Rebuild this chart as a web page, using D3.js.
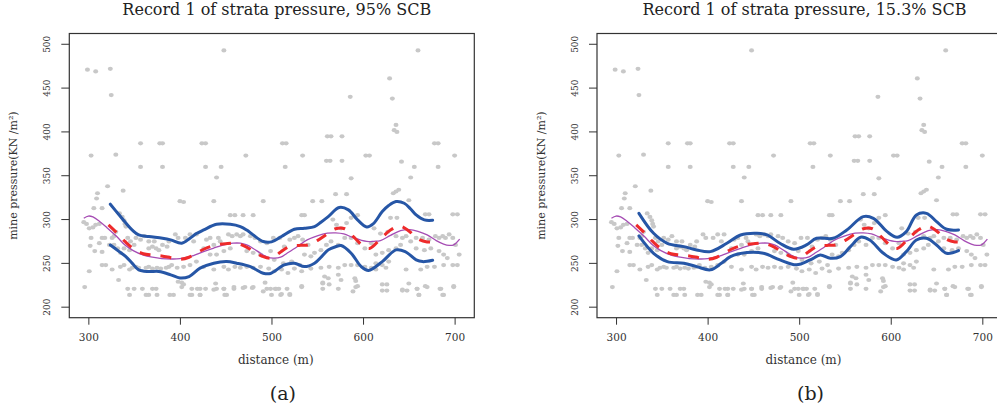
<!DOCTYPE html>
<html lang="en">
<head>
  <meta charset="UTF-8" />
  <title>Record 1 of strata pressure</title>
  <script src="https://d3js.org/d3.v7.min.js"></script>
  <style>
    body { margin: 0; background: #fff; }
    svg { display: block; font-family: 'DejaVu Serif', serif; }
    .tick text { fill: #333; }
    .tick line { stroke: #333; }
  </style>
</head>
<body>
<script>
  // scatter of measured pressure (same in both panels)
  const distance = [
    299,308,324,325,448,357,378,381,424,428,303,330,472,357,381,428,445,440,321,310,338,309,
    660,629,586,632,636,634,637,512,516,561,565,577,678,682,534,700,515,560,564,577,603,607,642,656,682,
    587,652,570,582,633,636,639,
    306,315,295,298,301,305,308,312,303,315,318,312,302,307,315,323,326,328,330,
    334,337,339,340,341,328,332,335,343,346,350,339,345,
    352,357,361,366,370,374,377,366,372,381,386,388,
    315,319,326,301,296,333,335,339,345,348,352,355,363,366,370,375,379,385,388,
    343,350,359,370,374,345,363,366,375,
    389,402,402,413,419,422,428,413,422,439,440,448,451,459,471,480,493,495,500,510,520,504,508,517,
    533,556,556,562,592,592,621,626,621,626,643,648,650,661,659,670,684,688,699,
    400,404,437,491,455,460,469,480,395,398,406,411,415,418,426,429,433,437,442,444,
    453,457,462,466,469,477,482,488,495,433,440,448,455,473,480,488,499,
    391,397,404,411,418,426,437,448,453,460,466,473,480,488,497,398,404,
    393,411,422,437,448,449,459,469,479,491,499,
    545,555,533,536,567,571,576,582,587,594,502,509,514,520,525,529,534,540,
    547,554,560,565,573,580,587,594,602,609,503,513,522,531,536,543,
    503,511,518,525,533,543,554,563,573,580,587,594,602,609,
    558,563,573,576,591,594,505,511,520,533,556,573,589,
    630,637,668,672,698,703,650,612,619,627,636,643,647,652,
    658,665,672,679,683,687,690,694,698,701,705,
    614,621,628,636,641,658,667,674,683,688,692,
    614,621,628,647,663,670,678,688,698,703,614,625,
    643,659,668,685,687,699,661
  ];
  const pressure = [
    471,469,472,442,493,387,387,387,387,387,373,374,373,360,360,360,360,348,338,330,333,324,
    493,461,440,438,408,402,400,387,387,395,395,395,387,387,373,373,360,367,367,367,373,373,366,360,360,
    347,348,329,329,330,332,334,
    313,313,297,295,290,291,294,295,279,279,279,273,270,264,263,271,279,281,286,
    307,303,299,295,292,271,267,262,279,275,271,267,265,
    279,277,281,267,269,267,265,275,275,271,269,275,
    248,248,243,241,223,231,246,248,243,245,246,245,245,246,244,245,244,245,246,
    221,221,221,221,221,214,214,214,214,
    214,228,223,221,221,221,221,214,214,227,221,221,214,223,223,223,228,221,214,214,214,221,221,221,
    223,228,221,233,223,230,226,226,219,219,219,219,227,214,221,223,221,214,223,
    321,320,321,321,305,305,305,305,283,279,279,283,275,283,267,277,279,271,279,275,
    283,281,283,281,283,281,279,275,273,260,260,264,267,264,262,260,264,
    248,245,246,248,252,246,243,246,243,246,245,246,245,246,244,229,226,
    214,214,214,220,221,214,221,222,222,218,221,
    321,321,305,305,300,294,290,296,302,305,279,279,269,277,279,281,277,271,
    262,265,271,275,271,279,279,273,267,273,254,250,252,248,260,258,
    241,243,239,244,241,244,245,246,245,248,248,248,246,245,
    235,226,237,231,233,224,221,215,215,224,227,221,218,
    302,302,306,306,306,306,322,290,284,286,281,279,281,275,
    279,279,277,281,279,281,279,283,279,271,260,
    260,262,265,267,271,267,265,267,264,260,256,
    250,248,252,243,243,246,246,248,248,248,243,245,
    220,221,224,221,214,224,214
  ];

  // smooth mean (red dashed) and reference trend (purple), same in both panels
  const fitDistance = [322,330,340,350,360,370,380,390,400,410,420,430,440,450,460,470,480,490,500,510,520,530,540,550,560,570,580,590,600,607,620,630,640,650,660,670,676];
  const meanFit     = [294,286,275,266,261,259.5,258.5,256.5,254.5,257,263,268,271,272.5,273,270,264,258,256,263,269.5,270.5,271,276,283,289.5,289.5,280,270,267,279,288,292.5,287,278,274.5,274.5];
  const trendDistance = [295,300,305,312,320,331,340,349,360,370,380,393,400,411,425,437,448,458,466,473,480,488,495,502,510,517,528,539,550,561,570,579,590,604,612,619,630,641,651,660,670,680,688,694,699,705.5];
  const trend         = [301.5,304,303,298,291,280.6,271,264.6,259.5,257,255.5,255,255.5,257.7,263,267.5,271,273,273,271,267,261.6,257.5,256,257,261.6,269,276.8,281.5,284.4,284.8,283.6,279,275,275.2,276,282,287.4,288.5,286.5,282.5,276,272,270.5,271.1,277.6];

  // confidence bands (blue), panel (a) 95% SCB
  const bandDistanceA = [324,333,341,348,355,366,381,390,402,411,418,426,440,455,466,473,480,491,500,511,525,536,547,554,562,574,584,594,604,611,621,628,636,645,652,658,667,676];
  const upperA = [317.5,306,296,288,282.5,280.6,278.7,276.8,273,278.7,284,288.2,294.6,294.6,292,288,282.5,274.9,274.5,280.6,288.9,290.1,292,297,303.4,313.7,311,299.6,291.5,295,309.1,316,320.5,318.6,312,305.3,299.6,299.2];
  const lowerDistanceA = [324,333,341,348,355,366,377,390,400,410,422,437,451,462,477,491,499,514,525,536,547,555,562,570,576,587,598,606,621,636,646,658,665,676];
  const lowerA = [271,264,257.8,250,242.6,240.7,240.7,236.9,233.3,235,244.5,250.2,252,250.2,246.3,238.8,238.5,248.3,250.2,246.3,250.2,258,265.4,269,270.3,261.6,246.3,242,252,265.4,263.5,254,252,253.6];

  // confidence bands (blue), panel (b) 15.3% SCB
  const bandDistanceB = [325,341,356,374,388,403,421,436,454,465,479,494,508,519,537,552,570,581,596,607,617,628,639,650,661,674];
  const upperB = [307.1,284.3,272.9,269.1,265.3,263.4,272.9,282.4,284.3,282.4,272.9,266.1,271,278.6,278.6,288.1,303.3,301.4,286.2,279.8,286.2,305.2,307.1,297.6,288.9,288.1];
  const lowerDistanceB = [325,341,356,374,388,403,415,425,443,461,479,497,512,523,534,545,556,567,577,592,606,617,628,639,650,661,674];
  const lowerB = [281.3,261.5,252,250.1,246.3,242.6,250,257.7,262.3,261.5,253.9,248.3,253.9,259.6,255.8,257.7,269.1,279.8,276.7,261.5,253.9,263.4,276.7,278.6,271,261.5,264.6];

  const xTicks = [300, 400, 500, 600, 700];
  const yTicks = [200, 250, 300, 350, 400, 450, 500];
  const titles = ["Record 1 of strata pressure, 95% SCB", "Record 1 of strata pressure, 15.3% SCB"];
  const tags = ["(a)", "(b)"];
  const xLabel = "distance (m)";
  const yLabel = "mine pressure(KN /m\u00B2)";

  const width = 997, height = 414;
  const boxTop = 33.5, boxBottom = 317.7, boxWidth = 405;

  const svg = d3.select("body").append("svg")
    .attr("width", width)
    .attr("height", height);

  const panels = [
    { left: 69.3, bands: [[bandDistanceA, upperA], [lowerDistanceA, lowerA]] },
    { left: 597,  bands: [[bandDistanceB, upperB], [lowerDistanceB, lowerB]] }
  ];

  const points = distance.map((d, i) => ({ x: d, y: pressure[i] }));
  const zip = (xs, ys) => xs.map((d, i) => [d, ys[i]]);

  panels.forEach((p, k) => {
    const x = d3.scaleLinear().domain([279.2, 721.5]).range([p.left, p.left + boxWidth]);
    const y = d3.scaleLinear().domain([188, 512.3]).range([boxBottom, boxTop]);
    const mid = p.left + boxWidth / 2;

    const g = svg.append("g");

    g.append("clipPath").attr("id", "clip" + k)
      .append("rect")
      .attr("x", p.left).attr("y", boxTop)
      .attr("width", boxWidth).attr("height", boxBottom - boxTop);

    const plot = g.append("g").attr("clip-path", `url(#clip${k})`);

    plot.selectAll("ellipse")
      .data(points)
      .join("ellipse")
      .attr("cx", d => x(d.x))
      .attr("cy", d => y(d.y))
      .attr("rx", 2.5).attr("ry", 2.1)
      .attr("fill", "#c8c8c8");

    const line = d3.line()
      .x(d => x(d[0]))
      .y(d => y(d[1]))
      .curve(d3.curveCatmullRom.alpha(0.5));

    plot.append("path")
      .attr("d", line(zip(trendDistance, trend)))
      .attr("fill", "none")
      .attr("stroke", "#a64db4")
      .attr("stroke-width", 1.3);

    plot.append("path")
      .attr("d", line(zip(fitDistance, meanFit)))
      .attr("fill", "none")
      .attr("stroke", "#ee2b2b")
      .attr("stroke-width", 3)
      .attr("stroke-dasharray", "11,10");

    p.bands.forEach(b => {
      plot.append("path")
        .attr("d", line(zip(b[0], b[1])))
        .attr("fill", "none")
        .attr("stroke", "#2656a6")
        .attr("stroke-width", 3)
        .attr("stroke-linecap", "round");
    });

    // box
    g.append("rect")
      .attr("x", p.left).attr("y", boxTop)
      .attr("width", boxWidth).attr("height", boxBottom - boxTop)
      .attr("fill", "none")
      .attr("stroke", "#333")
      .attr("stroke-width", 1.2);

    // x axis
    const xa = g.append("g")
      .attr("transform", `translate(0,${boxBottom})`)
      .call(d3.axisBottom(x).tickValues(xTicks).tickSize(7).tickPadding(9));
    xa.select(".domain").remove();
    xa.selectAll("text").attr("font-size", 10.5).attr("font-family", "DejaVu Serif");

    // y axis, labels parallel to the axis
    const ya = g.append("g")
      .attr("transform", `translate(${p.left},0)`)
      .call(d3.axisLeft(y).tickValues(yTicks).tickSize(8));
    ya.select(".domain").remove();
    ya.selectAll("text")
      .attr("x", null).attr("dy", "0.36em")
      .attr("text-anchor", "middle")
      .attr("transform", d => `translate(-22.6,${y(d)}) rotate(-90)`)
      .attr("y", 0)
      .attr("font-size", 9).attr("font-family", "DejaVu Serif");
    ya.selectAll(".tick").attr("transform", null);
    ya.selectAll(".tick line").attr("y1", d => y(d)).attr("y2", d => y(d));

    g.append("text")
      .attr("x", mid + 5).attr("y", 15)
      .attr("text-anchor", "middle")
      .attr("font-size", 16)
      .attr("fill", "#222")
      .text(titles[k]);

    g.append("text")
      .attr("x", mid + 4).attr("y", 364)
      .attr("text-anchor", "middle")
      .attr("font-size", 12)
      .attr("fill", "#333")
      .text(xLabel);

    g.append("text")
      .attr("transform", `translate(${p.left - 56},${(boxTop + boxBottom) / 2}) rotate(-90)`)
      .attr("dy", "0.35em")
      .attr("text-anchor", "middle")
      .attr("font-size", 11)
      .attr("fill", "#333")
      .text(yLabel);

    g.append("text")
      .attr("x", mid + 11).attr("y", 400)
      .attr("text-anchor", "middle")
      .attr("font-size", 19)
      .attr("fill", "#222")
      .text(tags[k]);
  });
</script>
</body>
</html>
